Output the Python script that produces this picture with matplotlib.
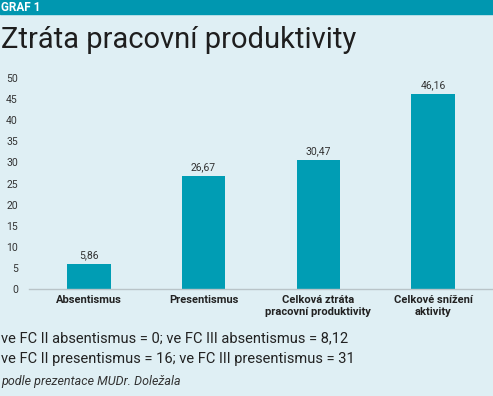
import numpy as np
import matplotlib.pyplot as plt
from matplotlib import rcParams

rcParams['font.family'] = ['Roboto', 'DejaVu Sans']

categories = ['Absentismus', 'Presentismus', 'Celková ztráta\npracovní produktivity', 'Celkové snížení\naktivity']
values = [5.86, 26.67, 30.47, 46.16]
value_labels = ['5,86', '26,67', '30,47', '46,16']
yticks = [0, 5, 10, 15, 20, 25, 30, 35, 40, 45, 50]

bg = '#dfeff4'
teal = '#009db4'

fig = plt.figure(figsize=(4.93, 3.96), dpi=100, facecolor=bg)
ax = fig.add_axes([29 / 493, 1 - 289 / 396, 464 / 493, 211 / 396])
ax.set_facecolor(bg)

x = np.arange(len(categories))
bars = ax.bar(x, values, width=0.38, color=teal, zorder=2)
for b, lab in zip(bars, value_labels):
    ax.text(b.get_x() + b.get_width() / 2, b.get_height() + 1.0, lab,
            ha='center', va='bottom', fontsize=7.5, color='#333333')

ax.set_xlim(-0.52, 3.52)
ax.set_ylim(0, 50)
ax.set_yticks(yticks)
ax.set_yticklabels([str(t) for t in yticks], fontsize=7.5, color='#333333')
ax.set_xticks(x)
ax.set_xticklabels(categories, fontsize=8, fontweight='bold', color='#222222', linespacing=1.25)
ax.tick_params(axis='both', length=0)
ax.tick_params(axis='y', pad=8)
ax.tick_params(axis='x', pad=4)
for s in ['top', 'right', 'left']:
    ax.spines[s].set_visible(False)
ax.spines['bottom'].set_color('#b9c4c8')
ax.spines['bottom'].set_linewidth(1.0)

# header band and title
fig.patches.append(plt.Rectangle((0, 1 - 14 / 396), 1, 14 / 396, transform=fig.transFigure,
                                 color='#0097b0', zorder=0))
fig.text(1 / 493, 1 - 7.5 / 396, 'GRAF 1', fontsize=8.5, fontweight='bold', color='white',
         ha='left', va='center')
fig.text(1 / 493, 1 - 40 / 396, 'Ztráta pracovní produktivity', fontsize=21, color='#1e1e1e',
         ha='left', va='center')

# notes below chart
fig.text(1 / 493, 1 - 338 / 396, 've FC II absentismus = 0; ve FC III absentismus = 8,12',
         fontsize=10.5, color='#222222', ha='left', va='center')
fig.text(1 / 493, 1 - 359 / 396, 've FC II presentismus = 16; ve FC III presentismus = 31',
         fontsize=10.5, color='#222222', ha='left', va='center')
fig.text(1 / 493, 1 - 381 / 396, 'podle prezentace MUDr. Doležala',
         fontsize=9, style='italic', color='#333333', ha='left', va='center')

fig.savefig('out.png', dpi=100, facecolor=bg)
